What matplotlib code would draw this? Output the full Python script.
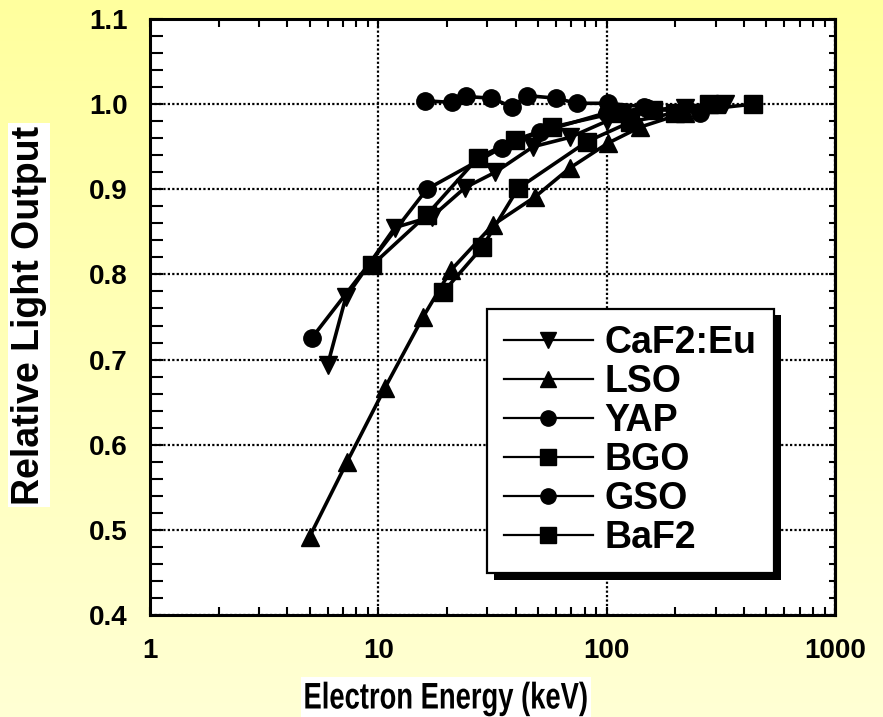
import numpy as np
import matplotlib.pyplot as plt
import matplotlib.patheffects as pe
from matplotlib.lines import Line2D
from matplotlib.colors import LinearSegmentedColormap
from matplotlib.textpath import TextPath
from matplotlib.patches import PathPatch, Rectangle
from matplotlib.font_manager import FontProperties
from matplotlib.transforms import Affine2D, IdentityTransform
from matplotlib.ticker import (MultipleLocator, FixedLocator, LogLocator,
                               NullFormatter, FuncFormatter, FormatStrFormatter)

plt.rcParams['font.family'] = ['Liberation Sans', 'DejaVu Sans']
plt.rcParams['font.weight'] = 'bold'

# electron energy (keV) vs relative light output, one pair of lists per crystal
caf2_e = [6.0, 7.2, 11.8, 17.2, 24.0, 32.5, 47.6, 69.0, 100.0, 118.0, 220.0, 330.0]
caf2_y = [0.694, 0.773, 0.855, 0.868, 0.902, 0.920, 0.950, 0.961, 0.980, 0.990, 0.995, 1.000]

lso_e = [5.0, 7.3, 10.7, 15.7, 20.8, 31.7, 48.5, 69.0, 101.0, 140.0, 220.0, 300.0]
lso_y = [0.492, 0.580, 0.667, 0.750, 0.805, 0.858, 0.891, 0.925, 0.954, 0.973, 0.990, 1.000]

yap_e = [16.0, 21.0, 24.2, 31.2, 38.5, 44.8, 60.0, 74.0, 101.0, 145.0]
yap_y = [1.004, 1.002, 1.009, 1.007, 0.997, 1.010, 1.007, 1.001, 1.001, 0.997]

bgo_e = [9.4, 16.3, 27.3, 39.7, 57.7, 110.0, 160.0, 280.0]
bgo_y = [0.811, 0.870, 0.937, 0.958, 0.973, 0.990, 0.993, 1.000]

gso_e = [5.1, 16.3, 34.8, 51.0, 100.0, 150.0, 256.0, 310.0]
gso_y = [0.725, 0.900, 0.949, 0.967, 0.990, 0.995, 0.990, 1.000]

baf2_e = [19.2, 28.5, 40.9, 82.0, 127.0, 200.0, 437.0]
baf2_y = [0.779, 0.832, 0.901, 0.956, 0.979, 0.990, 1.000]

names = ['CaF2:Eu', 'LSO', 'YAP', 'BGO', 'GSO', 'BaF2']
energies = [caf2_e, lso_e, yap_e, bgo_e, gso_e, baf2_e]
outputs = [caf2_y, lso_y, yap_y, bgo_y, gso_y, baf2_y]
markers = ['v', '^', 'o', 's', 'o', 's']

W, H = 883, 717
fig = plt.figure(figsize=(W / 100, H / 100), dpi=100)

# pale yellow backdrop, a bit stronger at the top
bg = fig.add_axes([0, 0, 1, 1], zorder=-10)
grad = np.linspace(0, 1, 256).reshape(-1, 1)
cmap = LinearSegmentedColormap.from_list('bg', ['#FFFF9E', '#FFFFD4'])
bg.imshow(grad, aspect='auto', cmap=cmap, extent=[0, 1, 0, 1], origin='upper')
bg.axis('off')

ax = fig.add_axes([150 / W, 1 - 615 / H, 685 / W, 596 / H])
ax.set_facecolor('white')

for e, y, m in zip(energies, outputs, markers):
    ax.plot(e, y, color='k', lw=2.6, marker=m, ms=12.5, mfc='k', mec='k', zorder=3)

ax.set_xscale('log')
ax.set_xlim(1, 1000)
ax.set_ylim(0.4, 1.1)

ax.xaxis.set_major_locator(FixedLocator([1, 10, 100, 1000]))
ax.xaxis.set_minor_locator(LogLocator(base=10, subs=np.arange(2, 10)))
ax.xaxis.set_minor_formatter(NullFormatter())
ax.xaxis.set_major_formatter(FuncFormatter(lambda v, p: f'{v:g}'))
ax.yaxis.set_major_locator(MultipleLocator(0.1))
ax.yaxis.set_minor_locator(MultipleLocator(0.02))
ax.yaxis.set_major_formatter(FormatStrFormatter('%.1f'))

ax.grid(True, which='major', color='k', ls=(0, (1, 1)), lw=1.6)
ax.set_axisbelow(True)

ax.tick_params(axis='both', which='both', direction='in', width=1.5, labelsize=20)
ax.tick_params(axis='y', which='both', length=9, pad=16, right=False)
ax.tick_params(axis='x', which='both', length=5.5, top=True, pad=16.5)
for s in ax.spines.values():
    s.set_linewidth(2.2)

# shorter ticks on the right edge
sec = ax.secondary_yaxis('right')
sec.yaxis.set_major_locator(MultipleLocator(0.02))
sec.tick_params(direction='in', length=4.5, width=1.5, labelright=False)
sec.spines['right'].set_linewidth(2.2)

handles = [Line2D([], [], color='k', lw=1.6, marker=m, ms=11, mfc='k', mec='k')
           for m in markers]
leg = ax.legend(handles, names, loc='lower left', bbox_to_anchor=(0.492, 0.070),
                frameon=True, fancybox=False, edgecolor='k', framealpha=1,
                fontsize=27, handlelength=2.37, handletextpad=0.32,
                labelspacing=0.08, borderpad=0.45, borderaxespad=0)
leg.get_frame().set_linewidth(1.6)
leg.get_frame().set_path_effects([
    pe.SimplePatchShadow(offset=(5, -5), shadow_rgbFace='k', alpha=1),
    pe.Normal()])
leg.set_zorder(5)

box = dict(fc='white', ec='none', pad=2)
fig.text(29 / W, 1 - 315 / H, 'Relative Light Output', fontsize=27,
         rotation=90, ha='center', va='center', bbox=box)

# x label in a condensed bold face: squeeze the glyph outlines horizontally
tp = TextPath((0, 0), 'Electron Energy (keV)', size=37,
              prop=FontProperties(family='Liberation Sans', weight='bold'))
ext = tp.get_extents()
sx = 0.74
cx, cy = 446, H - 699
tw, th = ext.width * sx, ext.height
to_px = (Affine2D().translate(-(ext.x0 + ext.x1) / 2, -(ext.y0 + ext.y1) / 2)
         .scale(sx, 1).translate(cx, cy))
fig.add_artist(Rectangle((cx - tw / 2 - 4, cy - th / 2 - 5), tw + 8, th + 10,
                         fc='white', ec='none', transform=IdentityTransform()))
fig.add_artist(PathPatch(tp, fc='black', ec='none', transform=to_px))

fig.savefig('out.png', dpi=100)
